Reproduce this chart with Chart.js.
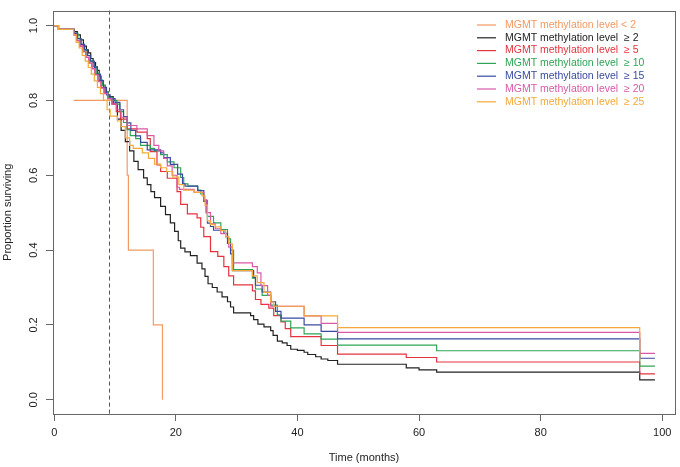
<!DOCTYPE html>
<html>
<head>
<meta charset="utf-8">
<script src="https://cdn.jsdelivr.net/npm/chart.js@4.4.0/dist/chart.umd.min.js"></script>
<style>
  html, body { margin: 0; padding: 0; background: #fff; }
</style>
</head>
<body>
<canvas id="km" width="680" height="467"></canvas>
<script>
// Kaplan-Meier steps: [month, proportion surviving after the step]
const kmLt2 = [[3.2,.8],[12.0,.6],[12.2,.4],[16.3,.2],[17.8,0]];
const kmGe2 = [[0,1],[0.7,.99],[3.3,.984],[3.8,.975],[4.3,.962],[4.8,.945],[5.3,.935],[5.6,.927],[6.0,.912],[6.4,.901],[6.8,.89],[7.1,.88],[7.4,.865],[7.7,.852],[8.0,.84],[8.4,.823],[8.9,.81],[9.7,.79],[10.4,.75],[11.0,.72],[11.7,.69],[12.4,.665],[13.1,.637],[13.8,.615],[14.7,.593],[15.3,.575],[15.9,.556],[16.5,.54],[17.5,.517],[18.3,.495],[19.1,.473],[19.8,.45],[20.4,.425],[20.8,.405],[21.5,.395],[22.4,.385],[23.5,.365],[24.3,.35],[24.8,.33],[25.3,.31],[26.0,.30],[26.8,.288],[27.6,.275],[28.5,.262],[29.0,.248],[29.5,.232],[32.3,.225],[32.8,.214],[33.5,.202],[34.5,.195],[35.6,.185],[36.0,.172],[36.7,.157],[37.5,.152],[38.3,.145],[38.9,.135],[40.0,.132],[41.1,.127],[41.7,.121],[43.0,.115],[43.9,.109],[45.0,.105],[46.6,.095],[57.9,.085],[60.0,.08],[62.9,.074],[96.3,.053],[98.8,.053]];
const kmGe5 = [[0,1],[0.7,.99],[3.2,.975],[3.7,.96],[4.2,.945],[4.7,.93],[5.2,.915],[5.7,.9],[6.2,.885],[6.7,.87],[7.2,.853],[7.7,.835],[8.2,.82],[8.8,.805],[9.5,.79],[10.2,.77],[10.9,.75],[12.0,.724],[13.6,.715],[15.3,.698],[15.8,.663],[16.9,.628],[17.5,.61],[18.6,.592],[20.2,.556],[20.8,.522],[21.9,.497],[23.5,.486],[24.1,.461],[24.6,.436],[25.7,.396],[26.9,.383],[27.9,.356],[28.7,.331],[29.5,.307],[32.6,.291],[33.1,.268],[34.0,.255],[35.3,.245],[36.1,.225],[37.3,.208],[38.0,.19],[38.9,.169],[43.9,.145],[46.6,.122],[57.9,.113],[62.9,.101],[96.3,.069],[98.8,.069]];
const kmGe10 = [[0,1],[0.7,.99],[3.3,.98],[3.9,.965],[4.4,.95],[4.9,.935],[5.4,.92],[5.9,.905],[6.4,.89],[6.9,.872],[7.4,.855],[7.9,.84],[8.4,.822],[8.9,.808],[9.6,.80],[10.3,.79],[10.8,.77],[11.4,.741],[12.0,.722],[12.5,.706],[13.4,.698],[14.2,.68],[15.8,.672],[16.5,.665],[17.5,.655],[18.6,.636],[19.7,.62],[20.8,.594],[21.3,.577],[22.0,.571],[23.6,.56],[24.1,.55],[24.6,.533],[25.2,.49],[26.2,.473],[27.4,.455],[28.5,.43],[29.0,.40],[29.5,.348],[32.6,.325],[33.1,.296],[34.2,.279],[35.6,.253],[36.7,.227],[37.3,.21],[38.9,.192],[41.1,.176],[43.9,.162],[46.6,.146],[62.9,.131],[96.3,.09],[98.8,.09]];
const kmGe15 = [[0,1],[0.7,.99],[3.3,.979],[3.8,.965],[4.4,.95],[5.0,.935],[5.5,.92],[6.0,.905],[6.6,.888],[7.1,.87],[7.6,.853],[8.1,.835],[8.6,.815],[9.2,.805],[10.0,.795],[10.8,.775],[11.4,.757],[12.0,.74],[12.6,.72],[13.4,.705],[14.2,.688],[15.3,.668],[17.5,.66],[18.0,.647],[19.1,.629],[20.3,.603],[21.1,.577],[21.5,.571],[23.6,.559],[24.6,.53],[25.0,.50],[25.2,.472],[25.7,.463],[26.2,.453],[27.9,.445],[28.5,.418],[29.0,.39],[29.3,.345],[32.8,.327],[33.1,.306],[34.2,.288],[35.6,.262],[36.4,.236],[37.3,.218],[41.1,.2],[43.9,.183],[46.6,.163],[96.3,.111],[98.8,.111]];
const kmGe20 = [[0,1],[0.7,.99],[3.2,.975],[3.7,.96],[4.2,.945],[4.7,.93],[5.2,.915],[5.7,.9],[6.2,.885],[6.7,.868],[7.2,.85],[7.7,.833],[8.2,.818],[8.8,.805],[9.5,.79],[10.3,.775],[11.0,.755],[12.0,.733],[13.6,.724],[15.3,.706],[16.4,.68],[17.2,.665],[18.0,.645],[18.6,.625],[19.4,.6],[20.2,.568],[20.6,.562],[23.0,.554],[24.6,.535],[25.0,.50],[25.7,.47],[26.5,.457],[27.4,.444],[28.2,.435],[28.7,.408],[29.3,.366],[32.6,.356],[33.4,.339],[34.0,.305],[35.1,.279],[35.6,.25],[41.1,.224],[43.9,.204],[46.6,.18],[96.3,.124],[98.8,.124]];
const kmGe25 = [[0,1],[0.7,.99],[3.2,.975],[3.6,.955],[4.1,.94],[4.6,.92],[5.1,.905],[5.6,.888],[6.1,.87],[6.6,.852],[7.1,.835],[7.6,.818],[8.1,.80],[8.7,.775],[9.2,.758],[10.4,.745],[11.0,.73],[11.7,.70],[12.4,.68],[13.0,.672],[14.5,.66],[15.5,.645],[16.5,.63],[17.5,.62],[18.5,.61],[19.5,.595],[20.5,.575],[21.3,.56],[23.0,.554],[24.3,.545],[24.8,.52],[25.2,.478],[25.7,.468],[26.5,.462],[27.4,.452],[28.2,.437],[28.7,.417],[29.3,.345],[32.6,.331],[33.4,.313],[34.5,.287],[35.6,.261],[36.1,.25],[41.1,.224],[46.6,.193],[96.3,.104]];

const seriesLabels = ['MGMT methylation level < 2', 'MGMT methylation level  \u2265 2', 'MGMT methylation level  \u2265 5',
  'MGMT methylation level  \u2265 10', 'MGMT methylation level  \u2265 15', 'MGMT methylation level  \u2265 20', 'MGMT methylation level  \u2265 25'];
const seriesColors = ['#F29A62', '#222222', '#E5323F', '#2EA556', '#3A4A9F', '#D959A8', '#F5A93A'];
const seriesData = [kmLt2, kmGe2, kmGe5, kmGe10, kmGe15, kmGe20, kmGe25];

const xTicks = [0, 20, 40, 60, 80, 100];
const yTicks = [0, 0.2, 0.4, 0.6, 0.8, 1.0];
const medianMonth = 9;

const FONT = '"Liberation Sans", Arial, sans-serif';

const frame = {
  id: 'frame',
  beforeDatasetsDraw(chart) {
    const { ctx, chartArea: a, scales } = chart;
    const x = Math.round(scales.x.getPixelForValue(medianMonth)) + 0.5;
    ctx.save();
    ctx.strokeStyle = '#555';
    ctx.lineWidth = 1;
    ctx.setLineDash([4, 3]);
    ctx.beginPath();
    ctx.moveTo(x, a.top);
    ctx.lineTo(x, a.bottom);
    ctx.stroke();
    ctx.restore();
  },
  afterDraw(chart) {
    const { ctx, chartArea: a } = chart;
    ctx.save();
    ctx.strokeStyle = '#666';
    ctx.lineWidth = 1;
    ctx.strokeRect(Math.round(a.left) + 0.5, Math.round(a.top) + 0.5,
      Math.round(a.right - a.left), Math.round(a.bottom - a.top));
    // legend, top right
    ctx.font = '10.5px ' + FONT;
    ctx.textBaseline = 'middle';
    seriesLabels.forEach((lab, i) => {
      const y = 25 + i * 12.8;
      ctx.strokeStyle = seriesColors[i];
      ctx.lineWidth = 1.2;
      ctx.beginPath();
      ctx.moveTo(477, y);
      ctx.lineTo(496, y);
      ctx.stroke();
      ctx.fillStyle = seriesColors[i];
      ctx.fillText(lab, 505, y);
    });
    ctx.restore();
  }
};

new Chart(document.getElementById('km'), {
  type: 'line',
  data: {
    datasets: seriesData.map((d, i) => ({
      label: seriesLabels[i],
      data: d.map(p => ({ x: p[0], y: p[1] })),
      borderColor: seriesColors[i],
      borderWidth: 1.2,
      pointRadius: 0,
      stepped: true,
      fill: false,
      order: seriesData.length - i
    }))
  },
  options: {
    responsive: false,
    devicePixelRatio: 1,
    animation: false,
    layout: { padding: { left: 0, right: 5, top: 3, bottom: 0 } },
    plugins: { legend: { display: false }, tooltip: { enabled: false } },
    scales: {
      x: {
        type: 'linear',
        min: -0.2,
        max: 102.1,
        afterBuildTicks: s => { s.ticks = xTicks.map(v => ({ value: v })); },
        afterFit: s => { s.height = 53; },
        grid: { drawOnChartArea: false, tickLength: 7, color: '#666' },
        border: { display: false },
        ticks: { font: { family: FONT, size: 11 }, color: '#222', padding: 5, maxRotation: 0, autoSkip: false },
        title: { display: true, text: 'Time (months)', font: { family: FONT, size: 11 }, color: '#222', padding: { top: 4, bottom: 2 } }
      },
      y: {
        type: 'linear',
        min: -0.038,
        max: 1.04,
        afterBuildTicks: s => { s.ticks = yTicks.map(v => ({ value: v })); },
        afterFit: s => { s.width = 53; },
        grid: { drawOnChartArea: false, tickLength: 7, color: '#666' },
        border: { display: false },
        ticks: { font: { family: FONT, size: 11 }, color: '#222', padding: 4, minRotation: 90, maxRotation: 90,
          crossAlign: 'center', callback: v => v.toFixed(1) },
        title: { display: true, text: 'Proportion surviving', font: { family: FONT, size: 11 }, color: '#222', padding: { top: 1, bottom: 0 } }
      }
    }
  },
  plugins: [frame]
});
</script>
</body>
</html>
